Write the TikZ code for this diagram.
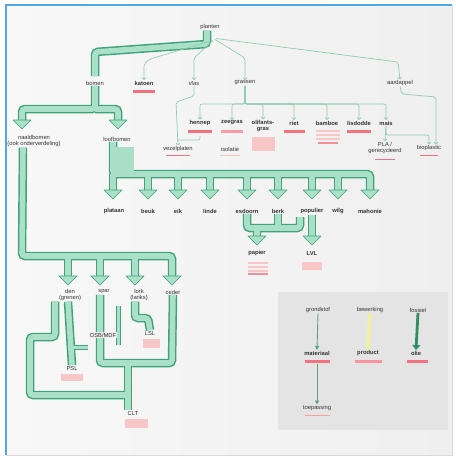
\documentclass[tikz,border=0pt]{standalone}
\usepackage{fontspec}
\setmainfont{Liberation Sans}
\usetikzlibrary{arrows.meta,calc}
\definecolor{mint}{HTML}{A9E0C7}
\definecolor{dkg}{HTML}{3FA27A}
\definecolor{thinc}{HTML}{8FCDB1}
\definecolor{redu}{HTML}{F4717E}
\definecolor{pinku}{HTML}{F8C6C6}
\definecolor{frameblue}{HTML}{4FA9E2}
\definecolor{bgc}{HTML}{EFEFEF}
\definecolor{bgl}{HTML}{F8F8F8}
\definecolor{legbg}{HTML}{E4E4E4}
\definecolor{yel}{HTML}{EEF0A8}
\definecolor{deep}{HTML}{2F8F62}
\tikzset{
 lbl/.style={font=\fontsize{5.8}{6.4}\selectfont, inner sep=0.6pt, align=center, text=black!80},
 blbl/.style={lbl, font=\fontsize{5.8}{6.4}\selectfont\bfseries},
 bout/.style={draw=dkg, line width=8.5pt, rounded corners=3pt},
 bin/.style={draw=mint, line width=5.6pt, rounded corners=3pt},
 nout/.style={draw=dkg, line width=5pt, rounded corners=2pt},
 nin/.style={draw=mint, line width=3pt, rounded corners=2pt},
 thin/.style={draw=thinc, line width=0.7pt, rounded corners=2pt},
 thinar/.style={thin, -{Straight Barb[length=2pt,width=4pt]}},
 bighead/.style={fill=mint, draw=dkg, line width=0.6pt, line join=round},
}
\newcommand\ulr[4]{\fill[#4] (#1,#3) rectangle (#2,#3+3);}
\newcommand\ahead[1]{\path[bighead] ($(#1)+(-9,-9)$) -- ($(#1)+(9,-9)$) -- (#1) -- cycle;}
\newcommand\allbands[2]{%
 \draw[#1] ([xshift=-3pt]root.south) -- (207,44) -- (95,52) -- ([yshift=4pt]bomen.north);
 \draw[#1] (bomen.south) -- (95,109) -- (22,109) -- ($(tNaald)+(0,-8)$);
 \draw[#1] (95,109) -- (118,109) -- ($(tLoof)+(0,-8)$);
 \draw[#1] ([xshift=-4pt]loof.south) -- (113,174) -- (370,174) -- ($(tMah)+(0,-8)$);
 \draw[#1] (113,174) -- ($(tPla)+(0,-8)$);
 \foreach \t in {tBeuk,tEik,tLinde,tEsd,tBerk,tPop,tWilg}{\draw[#1] (\t |- 0,174) -- ($(\t)+(0,-8)$);}
 \draw[#1] (esdoorn.south) -- (247,228) -- (300,228) -- (300,217);
 \draw[#1] (berk.south) -- (278,228);
 \draw[#1] (257,228) -- ($(tPap)+(0,-8)$);
 \draw[#1] (populier.south) -- ($(tLvl)+(0,-8)$);
 \draw[#1] ([xshift=-11pt]naald.south) -- (22,256) -- (172,256) -- ($(tCed)+(0,-8)$);
 \foreach \t in {tDen,tSpar,tLork}{\draw[#1] (\t |- 0,256) -- ($(\t)+(0,-8)$);}
 \draw[#1] ([xshift=-15pt]den.south) -- (55,337) -- (30,337) -- (30,395) -- (128,395);
 \draw[#1] ([xshift=-2pt]den.south) -- (psl.north);
 \draw[#1] ([xshift=-4pt]spar.south) -- (100,363) -- (172,363) -- (ceder.south);
 \draw[#1] (128,363) -- ([xshift=-5pt]clt.north);
 \draw[#1] ([xshift=-4pt]lork.south) -- (135,318) -- (148,318) -- (lsl.north);
 \draw[#2] (118,306) -- (118,345);
 \draw[#2] (72,347) -- (88,347);
}
\begin{document}
\begin{tikzpicture}[x=1pt,y=-1pt]
\useasboundingbox (0,0) rectangle (456,459);
\fill[white] (0,0) rectangle (456,459);
\shade[left color=bgl, right color=bgc] (6,5) rectangle (452,455);
\draw[black!15, line width=0.8pt] (452,5) -- (452,455) -- (6,455);
\draw[frameblue, line width=1.3pt] (6,455) -- (6,5) -- (452,5);
\fill[legbg] (278,292) rectangle (448,430);

% tips of big arrows
\coordinate (tNaald) at (22,129);
\coordinate (tLoof) at (118,129);
\coordinate (tPla) at (113,199);
\coordinate (tBeuk) at (148,199);
\coordinate (tEik) at (178,199);
\coordinate (tLinde) at (210,199);
\coordinate (tEsd) at (247,199);
\coordinate (tBerk) at (278,199);
\coordinate (tPop) at (312,199);
\coordinate (tWilg) at (338,199);
\coordinate (tMah) at (370,199);
\coordinate (tPap) at (257,245);
\coordinate (tLvl) at (312,245);
\coordinate (tDen) at (68,285);
\coordinate (tSpar) at (100,285);
\coordinate (tLork) at (135,285);
\coordinate (tCed) at (172,285);

% nodes
\node[lbl] (root) at (210,27) {planten};
\node[lbl] (bomen) at (95,83) {bomen};
\node[blbl] (katoen) at (144,83) {katoen};
\node[lbl] (vlas) at (194,83) {vlas};
\node[lbl] (grassen) at (245,83) {grassen};
\node[lbl] (aardappel) at (400,83) {aardappel};
\node[lbl] (naald) at (34,141) {naaldbomen\\(ook onderverdeling)};
\node[lbl] (loof) at (117,139) {loofbomen};
\node[blbl] (hennep) at (200,123) {hennep};
\node[blbl] (zeegras) at (232,123) {zeegras};
\node[blbl] (olif) at (263,126) {olifants-\\gras};
\node[blbl] (riet) at (294,123) {riet};
\node[blbl] (bamboe) at (327,123) {bamboe};
\node[blbl] (lisdodde) at (359,123) {lisdodde};
\node[blbl] (mais) at (386,123) {mais};
\node[lbl] (vezel) at (178,149) {vezelplaten};
\node[lbl] (isol) at (230,149) {isolatie};
\node[lbl] (pla) at (385,148) {PLA /\\gerecycleerd};
\node[lbl] (zetmeel) at (429,148) {bioplastic};
\node[blbl] (plataan) at (114,211) {plataan};
\node[blbl] (beuk) at (148,211) {beuk};
\node[blbl] (eik) at (178,211) {eik};
\node[blbl] (linde) at (210,211) {linde};
\node[blbl] (esdoorn) at (247,211) {esdoorn};
\node[blbl] (berk) at (278,211) {berk};
\node[blbl] (populier) at (312,211) {populier};
\node[blbl] (wilg) at (338,211) {wilg};
\node[blbl] (mahonie) at (370,211) {mahonie};
\node[blbl] (papier) at (257,253) {papier};
\node[blbl] (lvl) at (312,253) {LVL};
\node[lbl] (den) at (70,295) {den\\(grenen)};
\node[lbl] (spar) at (104,292) {spar};
\node[lbl] (lork) at (139,295) {lork\\(lariks)};
\node[lbl] (ceder) at (173,292) {ceder};
\node[lbl] (lsl) at (150,333) {LSL};
\node[lbl] (psl) at (72,368) {PSL};
\node[lbl] (clt) at (133,413) {CLT};
% legend nodes
\node[lbl] (grond) at (318,310) {grondstof};
\node[blbl] (mat) at (317,353) {materiaal};
\node[lbl] (toep) at (317,408) {toepassing};
\node[lbl] (bew) at (370,310) {bewerking};
\node[blbl] (prod) at (368,353) {product};
\node[lbl] (bron) at (418,310) {fossiel};
\node[blbl] (eind) at (416,353) {olie};

% big bands, two passes
\allbands{bout}{nout}
\allbands{bin}{nin}
\fill[mint] (116,147) rectangle (134,171);
\foreach \t in {tNaald,tLoof,tPla,tBeuk,tEik,tLinde,tEsd,tBerk,tPop,tWilg,tMah,tPap,tLvl,tDen,tSpar,tLork,tCed}{\ahead{\t}}
\node[lbl, fill=bgc] (osb) at (103,335) {OSB/MDF};

% thin connectors
\draw[thinar] (root.south) ++(2,10) -- (150,59) -- (144,64) -- (katoen.north);
\draw[thinar] (root.south) ++(3,10) -- (194,58) -- (vlas.north);
\draw[thinar] (root.south) ++(5,9) -- (245,58) -- (grassen.north);
\draw[thinar] (root.south) ++(6,8) -- (398,62) -- (aardappel.north);
\draw[thinc, line width=1.6pt] (grassen.south) -- (245,104);
\foreach \n in {hennep,zeegras,olif,riet,bamboe,lisdodde,mais}{\draw[thinar] (grassen.south) -- (245,104) -| (\n.north);}
\draw[thinar] (vlas.south) -- (194,96) -- (176,102) -- (vezel.north);
\draw[thin] ([yshift=-9pt]hennep.south) |- (177,140);
\draw[thinar] (mais.south) -- (pla.north);
\draw[thinar] (mais.south) -- (386,135) -| (zetmeel.north);
\draw[thinar] (aardappel.south) -- (402,94) -- (436,97) -- ([xshift=7pt]zetmeel.north);

% legend connectors
\draw[draw=deep!80, line width=0.9pt, -{Triangle[length=4pt,width=4pt]}] (grond.south) -- (mat.north);
\draw[draw=deep!80, line width=0.9pt, -{Triangle[length=4pt,width=4pt]}] (mat.south) ++(0,8) -- (toep.north);
\draw[draw=yel, line width=4pt] (bew.south) -- (prod.north);
\draw[draw=deep, line width=2.8pt, -{Triangle[length=5pt,width=8pt]}] (bron.south) -- (eind.north);

% underlines
\ulr{133}{155}{90}{redu}
\ulr{188}{212}{130}{redu}
\ulr{221}{243}{130}{redu!70}
\fill[pinku] (252,137) rectangle (275,151);
\ulr{284}{305}{130}{redu}
\fill[pinku] (316,130) rectangle (340,131.5);
\fill[pinku] (316,134) rectangle (340,135.5);
\fill[pinku] (316,138) rectangle (340,139.5);
\fill[redu!80] (318,142) rectangle (338,143.5);
\ulr{347}{371}{130}{redu}
\fill[redu] (166,155) rectangle (190,156);
\fill[pinku] (220,155) rectangle (240,156.3);
\fill[redu] (375,159) rectangle (395,160);
\fill[redu] (420,155) rectangle (438,156);
\fill[pinku] (248,262) rectangle (268,263.5);
\fill[pinku] (248,266) rectangle (268,267.5);
\fill[pinku] (248,270) rectangle (268,271.5);
\fill[redu!80] (248,273) rectangle (268,275);
\fill[pinku] (302,262) rectangle (322,270);
\fill[pinku] (61,374) rectangle (83,381);
\fill[pinku] (143,339) rectangle (160,348);
\fill[pinku] (125,419) rectangle (148,428);
\ulr{305}{330}{360}{redu}
\fill[redu!70] (305,415) rectangle (330,416.3);
\ulr{355}{382}{360}{redu!75}
\ulr{407}{428}{360}{redu}
\end{tikzpicture}
\end{document}
